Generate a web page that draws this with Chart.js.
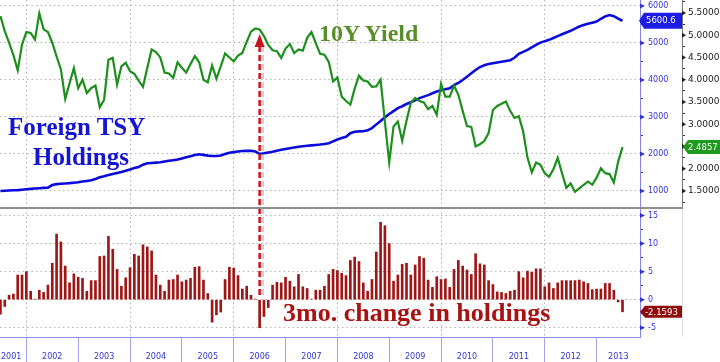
<!DOCTYPE html>
<html>
<head>
<meta charset="utf-8">
<script src="https://cdn.jsdelivr.net/npm/chart.js@4.4.1/dist/chart.umd.min.js"></script>
<style>
  html, body { margin: 0; padding: 0; background: #fff; }
  #wrap { position: relative; width: 720px; height: 362px; overflow: hidden; }
  canvas { position: absolute; left: 0; }
  #top { top: 0; }
  #bot { top: 208px; }
  .sep { position: absolute; left: 0; top: 207px; width: 683px; height: 2px; background: #8e8e8e; }
  .vline { position: absolute; left: 682px; top: 209px; width: 1px; height: 128px; background: #e0e0e0; }
  .note { position: absolute; font-family: 'Liberation Serif', 'Times New Roman', serif; font-weight: bold; line-height: 1; white-space: nowrap; }
</style>
</head>
<body>
<div id="wrap">
  <canvas id="top" width="720" height="208"></canvas>
  <canvas id="bot" width="720" height="154"></canvas>
  <div class="sep"></div>
  <div class="vline"></div>
  <div class="note" style="left:319px;top:21px;font-size:24px;color:#5a8e2a">10Y Yield</div>
  <div class="note" style="left:8px;top:114px;font-size:25px;color:#1414d2">Foreign TSY</div>
  <div class="note" style="left:33px;top:144px;font-size:25px;color:#1414d2">Holdings</div>
  <div class="note" style="left:283px;top:300px;font-size:26px;color:#a81212">3mo. change in holdings</div>
</div>
<script>
// --- DATA ---
// monthly, June 2001 .. June 2013
const months = [];
for (let i = 0; i < 145; i++) {
  const m = 5 + i;
  months.push((2001 + Math.floor(m / 12)) + '-' + String(m % 12 + 1).padStart(2, '0'));
}

const yearLabels = ['2001', '2002', '2003', '2004', '2005', '2006', '2007',
                    '2008', '2009', '2010', '2011', '2012', '2013'];

// foreign holdings of treasuries, $bn
const holdings = [
  1000, 1005, 1012, 1018, 1024, 1035, 1045, 1056, 1066, 1075,
  1083, 1089, 1160, 1185, 1195, 1203, 1212, 1224, 1236, 1255,
  1272, 1290, 1325, 1370, 1398, 1430, 1460, 1488, 1515, 1545,
  1582, 1618, 1650, 1710, 1749, 1758, 1767, 1776, 1795, 1815,
  1832, 1850, 1880, 1910, 1940, 1970, 1992, 1975, 1955, 1946,
  1946, 1960, 2000, 2035, 2050, 2065, 2080, 2089, 2085, 2065,
  2000, 2018, 2040, 2060, 2090, 2115, 2135, 2155, 2175, 2195,
  2210, 2222, 2233, 2243, 2255, 2270, 2290, 2340, 2390, 2430,
  2465, 2560, 2600, 2610, 2615, 2640, 2700, 2800, 2890, 2990,
  3080, 3160, 3240, 3290, 3350, 3400, 3450, 3510, 3550, 3590,
  3640, 3690, 3720, 3750, 3776, 3860, 3920, 4000, 4090, 4180,
  4270, 4350, 4400, 4430, 4455, 4475, 4495, 4515, 4535, 4600,
  4705, 4760, 4815, 4880, 4950, 5010, 5050, 5085, 5135, 5185,
  5235, 5285, 5330, 5390, 5445, 5485, 5520, 5550, 5580, 5655,
  5720, 5757, 5725, 5660, 5600.6
];

// 10Y yield, %
const yield10y = [
  5.43, 5.09, 4.83, 4.55, 4.21, 4.79, 5.07, 5.05, 4.90, 5.49,
  5.13, 5.07, 4.83, 4.52, 4.23, 3.57, 3.92, 4.26, 3.81, 4.00,
  3.70, 3.81, 3.87, 3.38, 3.55, 4.45, 4.49, 3.89, 4.30, 4.38,
  4.19, 4.13, 3.98, 3.84, 4.27, 4.68, 4.62, 4.50, 4.16, 4.14,
  4.04, 4.39, 4.27, 4.16, 4.35, 4.53, 4.39, 4.00, 3.94, 4.32,
  4.02, 4.30, 4.59, 4.50, 4.41, 4.54, 4.60, 4.85, 5.08, 5.15,
  5.13, 4.98, 4.78, 4.66, 4.64, 4.49, 4.70, 4.80, 4.60, 4.68,
  4.65, 4.94, 5.07, 4.82, 4.58, 4.56, 4.40, 3.96, 4.05, 3.62,
  3.52, 3.44, 3.80, 4.09, 3.98, 3.96, 3.84, 3.85, 4.00, 3.05,
  2.14, 2.95, 3.06, 2.63, 3.08, 3.48, 3.59, 3.52, 3.49, 3.34,
  3.41, 3.21, 3.91, 3.62, 3.62, 3.87, 3.66, 3.30, 2.96, 2.94,
  2.50, 2.55, 2.62, 2.80, 3.32, 3.41, 3.46, 3.51, 3.30, 3.14,
  3.18, 2.84, 2.25, 1.92, 2.14, 2.09, 1.90, 1.82, 1.99, 2.24,
  1.90, 1.57, 1.67, 1.48, 1.56, 1.64, 1.71, 1.64, 1.80, 2.01,
  1.90, 1.88, 1.69, 2.16, 2.4857
];

// 3 month change in holdings, %
const change3mo = [
  -2.6, -1.2, 0.8, 1.0, 4.4, 4.4, 5.0, 1.5, 0.1, 1.7,
  1.3, 2.6, 6.5, 11.7, 10.3, 6.0, 3.0, 4.6, 4.0, 3.8,
  1.5, 3.4, 3.4, 7.7, 7.8, 11.3, 9.0, 5.4, 2.4, 3.9,
  5.7, 8.1, 7.8, 9.8, 9.4, 8.7, 4.4, 2.6, 1.5, 3.5,
  3.6, 4.4, 3.2, 3.5, 3.8, 5.8, 5.9, 3.5, 1.1, -4.0,
  -2.7, -2.2, 3.6, 5.8, 5.6, 4.3, 1.9, 2.4, 0.8, 0.1,
  -5.0, -3.0, -1.4, 2.6, 3.1, 3.0, 4.0, 3.3, 2.3, 4.5,
  2.3, 2.0, 0.1, 1.7, 1.7, 2.4, 4.5, 5.4, 5.2, 4.7,
  4.3, 7.0, 7.6, 6.8, 3.0, 1.5, 3.6, 8.5, 13.8, 13.2,
  10.0, 3.3, 4.4, 6.3, 6.5, 4.4, 6.2, 7.7, 7.4, 3.5,
  2.2, 4.1, 3.6, 3.7, 2.2, 5.4, 7.0, 6.0, 5.3, 4.5,
  8.2, 6.4, 6.2, 3.4, 2.7, 1.4, 1.3, 1.1, 1.5, 1.7,
  5.0, 3.9, 5.1, 4.9, 5.5, 5.5, 2.3, 3.0, 2.0, 3.0,
  3.4, 3.4, 3.4, 3.4, 3.5, 3.2, 2.9, 1.8, 1.9, 1.9,
  2.9, 2.9, 1.7, -0.4, -2.1593
];

const arrowMonth = '2006-06';

// --- STYLE ---
Chart.defaults.font.family = 'DejaVu Sans';
const X_MIN = -0.1, X_MAX = 148.05;
const BLUE = '#3434d4', BLUE_AXIS = '#8484ea', GRID = '#b4b4b4', DOT = [1.5, 3];
const GREEN = '#1c8f1c', BLUE_LINE = '#0b0bdc', BAR = '#9e1616', RED = '#c8141e';
const NONE = 'rgba(0,0,0,0)';

const last = months.length - 1;
const decIdx = months.map((m, i) => m.endsWith('-12') ? i : -1).filter(i => i >= 0);
const pts = arr => arr.map((v, i) => ({ x: i, y: v }));

function stepTicks(step) {
  return ax => {
    const t = [];
    for (let k = Math.ceil(ax.min / step - 1e-9); k * step <= ax.max + 1e-9; k++) t.push({ value: +(k * step).toFixed(4) });
    ax.ticks = t;
  };
}
function fixWidth(w) {
  return ax => { ax.width = w; ax.paddingTop = 0; ax.paddingBottom = 0; };
}

function tickArrows(ctx, ax, color, w) {
  ctx.save();
  ctx.fillStyle = color;
  ax.ticks.forEach(t => {
    if (t.label === '') return;
    const y = ax.getPixelForValue(t.value);
    ctx.beginPath();
    ctx.moveTo(ax.left, y - 2.5);
    ctx.lineTo(ax.left + w, y);
    ctx.lineTo(ax.left, y + 2.5);
    ctx.closePath();
    ctx.fill();
  });
  ctx.restore();
}

function drawTag(ctx, x, w, yc, h, bg, text, size, pad) {
  ctx.save();
  ctx.fillStyle = bg;
  ctx.beginPath();
  ctx.moveTo(x, yc);
  ctx.lineTo(x + 5, yc - h / 2);
  ctx.lineTo(x + w, yc - h / 2);
  ctx.lineTo(x + w, yc + h / 2);
  ctx.lineTo(x + 5, yc + h / 2);
  ctx.closePath();
  ctx.fill();
  ctx.fillStyle = '#fff';
  ctx.font = size + 'px "DejaVu Sans"';
  ctx.textBaseline = 'middle';
  ctx.textAlign = 'left';
  ctx.fillText(text, x + pad, yc + 0.5);
  ctx.restore();
}

function dashedDown(ctx, x, y1, y2) {
  ctx.save();
  ctx.setLineDash([6, 3]);
  ctx.strokeStyle = 'rgba(150,150,150,0.45)';
  ctx.lineWidth = 3;
  ctx.beginPath(); ctx.moveTo(x + 3, y1); ctx.lineTo(x + 3, y2); ctx.stroke();
  ctx.strokeStyle = RED;
  ctx.lineWidth = 2.5;
  ctx.beginPath(); ctx.moveTo(x, y1); ctx.lineTo(x, y2); ctx.stroke();
  ctx.restore();
}

const topDecor = {
  id: 'topDecor',
  afterDatasetsDraw(chart) {
    const ctx = chart.ctx;
    const x = chart.scales.x.getPixelForValue(months.indexOf(arrowMonth));
    dashedDown(ctx, x, 46, chart.chartArea.bottom);
    ctx.save();
    ctx.fillStyle = RED;
    ctx.beginPath();
    ctx.moveTo(x, 34); ctx.lineTo(x - 5, 47); ctx.lineTo(x + 5, 47);
    ctx.closePath(); ctx.fill();
    ctx.restore();
  },
  afterDraw(chart) {
    const ctx = chart.ctx, yH = chart.scales.yH, yY = chart.scales.yY;
    tickArrows(ctx, yH, BLUE, 5);
    tickArrows(ctx, yY, '#222', 4);
    drawTag(ctx, yH.left - 1, 43, yH.getPixelForValue(holdings[last]), 16, '#1d1de2', holdings[last].toFixed(1), 8.5, 7);
    drawTag(ctx, yY.left + 1, 37, yY.getPixelForValue(yield10y[last]), 14, '#1e9a1e', yield10y[last].toFixed(4), 8.5, 5);
  }
};

const botDecor = {
  id: 'botDecor',
  afterDatasetsDraw(chart) {
    const x = chart.scales.x.getPixelForValue(months.indexOf(arrowMonth));
    dashedDown(chart.ctx, x, 0, 87);
  },
  afterDraw(chart) {
    const ctx = chart.ctx, xs = chart.scales.x, y = chart.scales.y;
    tickArrows(ctx, y, BLUE, 5);
    drawTag(ctx, y.left, 42, y.getPixelForValue(change3mo[last]), 12, '#8e0e0e', change3mo[last].toFixed(4), 8.5, 5);
    ctx.save();
    ctx.font = '8px "DejaVu Sans"';
    ctx.fillStyle = BLUE;
    ctx.textBaseline = 'middle';
    yearLabels.forEach((yr, n) => {
      const end = n < decIdx.length ? decIdx[n] : decIdx[decIdx.length - 1] + 12;
      const start = end - 12;
      const a = Math.max(start, xs.min), b = Math.min(end, xs.max);
      if (start < xs.min) {
        ctx.textAlign = 'left';
        ctx.fillText(yr, xs.getPixelForValue(a) + 1, 149);
      } else {
        ctx.textAlign = 'center';
        ctx.fillText(yr, xs.getPixelForValue((a + b) / 2), 149);
      }
    });
    ctx.restore();
  }
};

const common = {
  responsive: false, animation: false, devicePixelRatio: 1, events: [],
  layout: { padding: 0 },
  plugins: { legend: { display: false }, tooltip: { enabled: false } }
};

// --- TOP PANEL ---
new Chart(document.getElementById('top'), {
  type: 'line',
  data: {
    datasets: [
      { label: '10Y Yield', data: pts(yield10y), yAxisID: 'yY', borderColor: GREEN, borderWidth: 2.2, pointRadius: 0, tension: 0 },
      { label: 'Foreign TSY Holdings', data: pts(holdings), yAxisID: 'yH', borderColor: BLUE_LINE, borderWidth: 2.6, pointRadius: 0, tension: 0 }
    ]
  },
  options: {
    ...common,
    scales: {
      x: {
        type: 'linear', min: X_MIN, max: X_MAX, position: 'bottom', offset: false,
        afterBuildTicks: ax => { ax.ticks = decIdx.filter((v, n) => n % 2 === 0).map(v => ({ value: v })); },
        ticks: { display: false },
        grid: { color: GRID, drawTicks: false, offset: false },
        border: { display: false, dash: DOT },
        afterFit: ax => { ax.height = 0; ax.paddingLeft = 0; ax.paddingRight = 0; }
      },
      yH: {
        type: 'linear', position: 'right', min: 540, max: 6162,
        afterBuildTicks: stepTicks(500),
        ticks: { autoSkip: false, padding: 5, color: BLUE, font: { size: 8 }, callback: v => v % 1000 === 0 ? String(v) : '' },
        grid: { color: c => c.tick && c.tick.value % 1000 === 0 ? GRID : NONE, tickColor: BLUE, tickLength: 3 },
        border: { color: BLUE_AXIS, dash: DOT },
        afterFit: fixWidth(42)
      },
      yY: {
        type: 'linear', position: 'right', min: 1.118, max: 5.79,
        afterBuildTicks: stepTicks(0.25),
        ticks: { autoSkip: false, padding: 3, color: '#222', font: { size: 9 },
                 callback: v => Math.abs(v * 2 - Math.round(v * 2)) < 1e-6 ? v.toFixed(4) : '' },
        grid: { drawOnChartArea: false, tickColor: '#333', tickLength: 3 },
        border: { color: '#777' },
        afterFit: fixWidth(38)
      }
    }
  },
  plugins: [topDecor]
});

// --- BOTTOM PANEL ---
new Chart(document.getElementById('bot'), {
  type: 'bar',
  data: {
    datasets: [
      { label: '3mo. change in holdings', data: pts(change3mo), backgroundColor: BAR, borderWidth: 0, barThickness: 2 }
    ]
  },
  options: {
    ...common,
    scales: {
      x: {
        type: 'linear', min: X_MIN, max: X_MAX, position: 'bottom', offset: false,
        afterBuildTicks: ax => { ax.ticks = decIdx.map(v => ({ value: v })); },
        ticks: { display: false },
        grid: { color: c => c.index % 2 === 0 ? GRID : NONE, tickColor: '#a4a4e8', tickLength: 25, offset: false },
        border: { color: '#8a8ae6', dash: DOT },
        afterFit: ax => { ax.height = 25; ax.paddingLeft = 0; ax.paddingRight = 0; }
      },
      y: {
        type: 'linear', position: 'right', min: -6.65, max: 16.35,
        afterBuildTicks: stepTicks(2.5),
        ticks: { autoSkip: false, padding: 5, color: BLUE, font: { size: 8 }, callback: v => v % 5 === 0 ? String(v) : '' },
        grid: { color: c => c.tick && c.tick.value % 5 === 0 ? GRID : NONE, tickColor: BLUE, tickLength: 3 },
        border: { color: BLUE_AXIS, dash: DOT },
        afterFit: fixWidth(80)
      }
    }
  },
  plugins: [botDecor]
});
</script>
</body>
</html>
